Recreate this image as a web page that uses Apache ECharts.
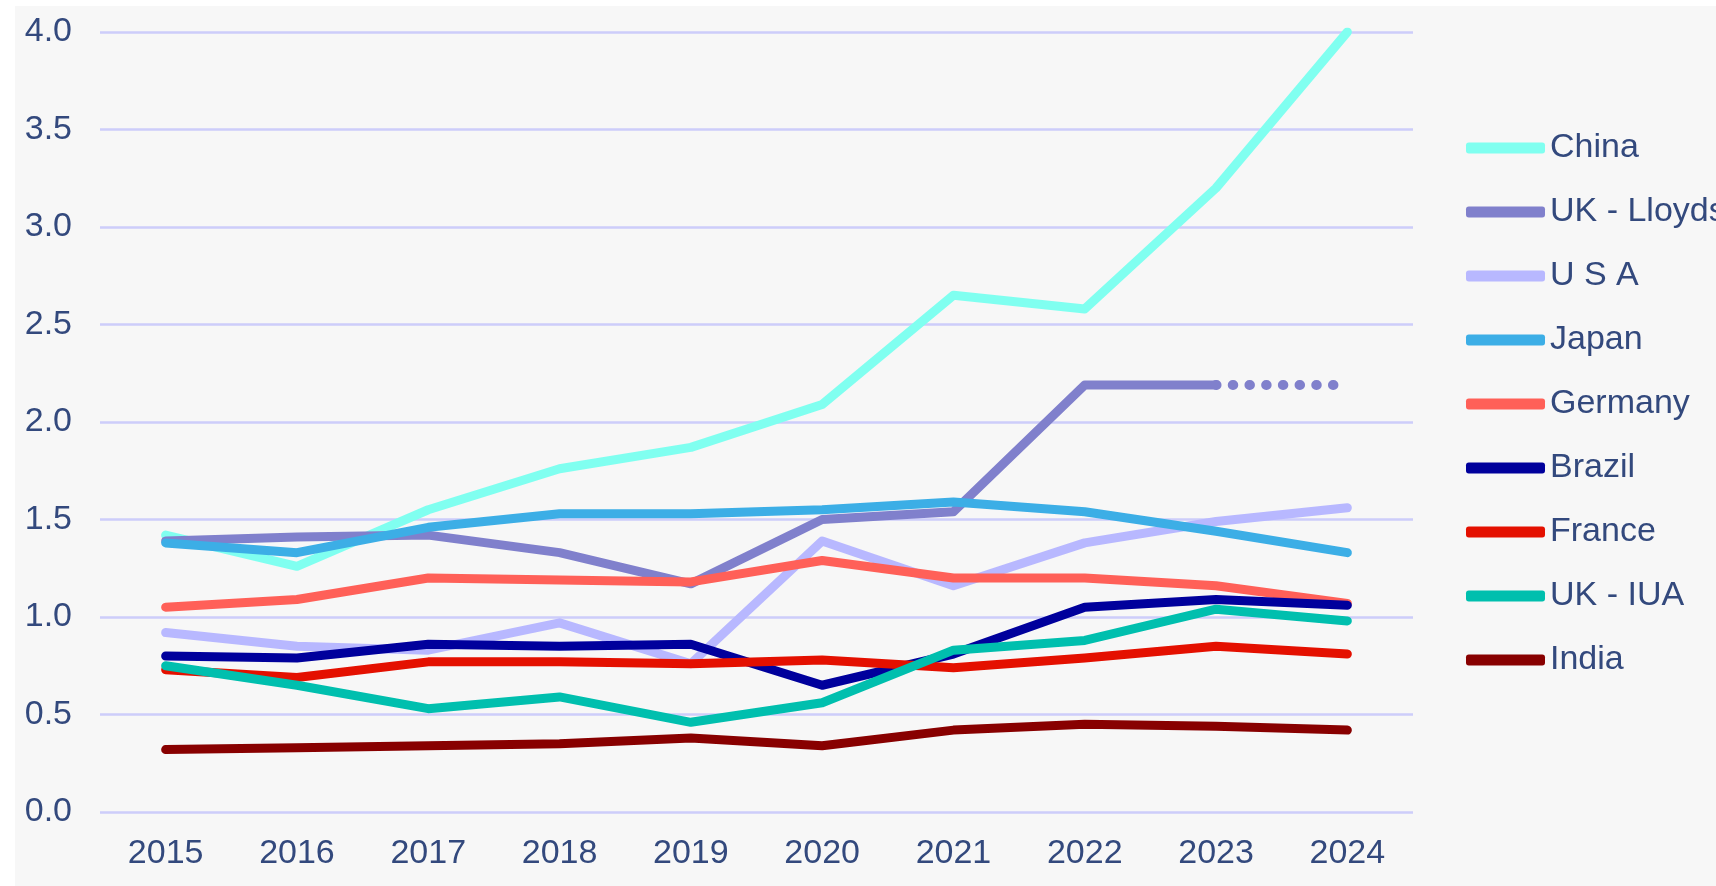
<!DOCTYPE html>
<html>
<head>
<meta charset="utf-8">
<script src="https://cdn.jsdelivr.net/npm/echarts@6/dist/echarts.min.js"></script>
<style>
  html, body { margin: 0; padding: 0; background: #ffffff; }
  #bg { position: absolute; left: 15px; top: 6px; width: 1701px; height: 880px; background: #f7f7f7; }
  #chart { position: absolute; left: 0; top: 0; width: 1716px; height: 886px; }
</style>
</head>
<body>
<div id="bg"></div>
<div id="chart"></div>
<script>
const years = ['2015','2016','2017','2018','2019','2020','2021','2022','2023','2024'];
const yTicks = [0, 0.5, 1.0, 1.5, 2.0, 2.5, 3.0, 3.5, 4.0];

const china      = [1.42, 1.26, 1.55, 1.76, 1.87, 2.09, 2.65, 2.58, 3.20, 4.00];
const ukLloyds   = [1.39, 1.41, 1.42, 1.33, 1.17, 1.50, 1.54, 2.19, 2.19, null];
const ukLloydsEst= [null, null, null, null, null, null, null, null, 2.19, 2.19];
const usa        = [0.92, 0.85, 0.83, 0.97, 0.76, 1.39, 1.16, 1.38, 1.49, 1.56];
const japan      = [1.38, 1.33, 1.46, 1.53, 1.53, 1.55, 1.59, 1.54, 1.44, 1.33];
const germany    = [1.05, 1.09, 1.20, 1.19, 1.18, 1.29, 1.20, 1.20, 1.16, 1.07];
const brazil     = [0.80, 0.79, 0.86, 0.85, 0.86, 0.65, 0.81, 1.05, 1.09, 1.06];
const france     = [0.73, 0.69, 0.77, 0.77, 0.76, 0.78, 0.74, 0.79, 0.85, 0.81];
const ukIUA      = [0.75, 0.65, 0.53, 0.59, 0.46, 0.56, 0.83, 0.88, 1.04, 0.98];
const india      = [0.32, 0.33, 0.34, 0.35, 0.38, 0.34, 0.42, 0.45, 0.44, 0.42];

const seriesDefs = [
  { name: 'China',       data: china,    color: '#80fff0' },
  { name: 'UK - Lloyds', data: ukLloyds, color: '#8080cc' },
  { name: 'U S A',       data: usa,      color: '#b8b8ff' },
  { name: 'Japan',       data: japan,    color: '#3caee6' },
  { name: 'Germany',     data: germany,  color: '#ff6058' },
  { name: 'Brazil',      data: brazil,   color: '#00009c' },
  { name: 'France',      data: france,   color: '#e41000' },
  { name: 'UK - IUA',    data: ukIUA,    color: '#00bfae' },
  { name: 'India',       data: india,    color: '#880000' }
];

const textColor = '#33497d';
const fontFamily = '"Liberation Sans", Arial, sans-serif';

const series = seriesDefs.map(d => ({
  name: d.name,
  type: 'line',
  data: d.data,
  showSymbol: false,
  symbol: 'none',
  connectNulls: false,
  color: d.color,
  lineStyle: { width: 9, color: d.color, cap: 'round', join: 'round' },
  emphasis: { disabled: true }
}));

// dotted continuation of UK - Lloyds (placed right after the solid Lloyds line)
series.splice(2, 0, {
  name: 'UK - Lloyds est',
  type: 'line',
  data: ukLloydsEst,
  showSymbol: false,
  symbol: 'none',
  color: '#8080cc',
  lineStyle: { width: 10, color: '#8080cc', type: [0.5, 16.2], cap: 'round' },
  emphasis: { disabled: true }
});

const chart = echarts.init(document.getElementById('chart'), null, { renderer: 'canvas' });
chart.setOption({
  backgroundColor: 'transparent',
  animation: false,
  grid: { left: 100, top: 32, width: 1313, height: 780, containLabel: false },
  xAxis: {
    type: 'category',
    data: years,
    boundaryGap: true,
    axisLine: { show: false },
    axisTick: { show: false },
    axisLabel: { color: textColor, fontSize: 34, fontFamily: fontFamily, margin: 25 }
  },
  yAxis: {
    type: 'value',
    min: yTicks[0],
    max: yTicks[yTicks.length - 1],
    interval: 0.5,
    axisLine: { show: false },
    axisTick: { show: false },
    splitLine: { lineStyle: { color: '#cdcdfa', width: 2.5 } },
    axisLabel: {
      color: textColor, fontSize: 34, fontFamily: fontFamily, margin: 28,
      padding: [6, 0, 0, 0],
      formatter: v => v.toFixed(1)
    }
  },
  legend: {
    orient: 'vertical',
    left: 1466,
    top: 128,
    padding: 0,
    itemGap: 24,
    itemWidth: 79,
    itemHeight: 11,
    icon: 'roundRect',
    data: seriesDefs.map(d => d.name),
    textStyle: { color: textColor, fontSize: 34, fontFamily: fontFamily, lineHeight: 40 }
  },
  series: series
});
</script>
</body>
</html>
